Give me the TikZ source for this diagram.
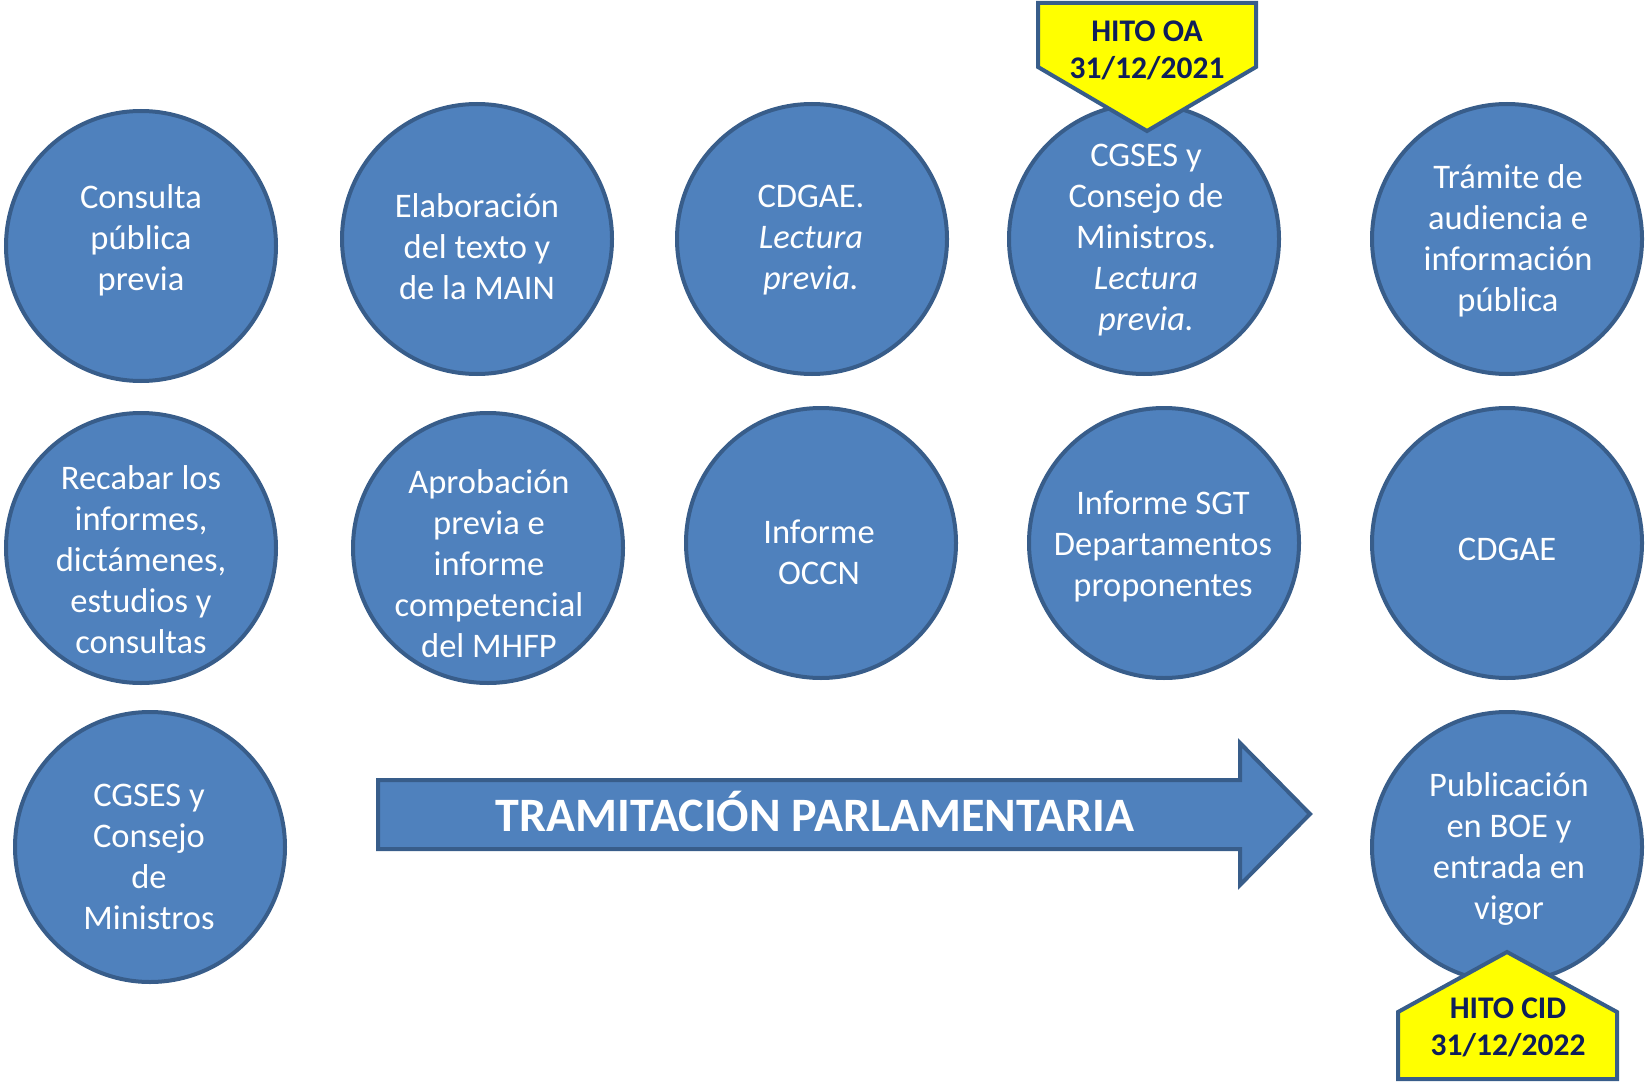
\documentclass[tikz,border=0pt]{standalone}
\usepackage{fontspec}
\setmainfont{Carlito}
\definecolor{fillb}{HTML}{4F81BD}
\definecolor{bord}{HTML}{385D8A}
\definecolor{hitoyel}{HTML}{FFFF00}
\definecolor{hitotxt}{HTML}{0E1E5A}
\tikzset{
  circ/.style={circle, draw=bord, fill=fillb, line width=4pt, minimum size=270pt, inner sep=0pt},
  lbl/.style={text=white, align=center, inner sep=0pt, font=\fontsize{34.5}{41}\selectfont},
  hitotext/.style={text=hitotxt, align=center, inner sep=0pt, font=\bfseries\fontsize{31.5}{37}\selectfont},
  shapeline/.style={draw=bord, line width=4pt, line join=miter},
  bigtxt/.style={text=white, inner sep=0pt, font=\bfseries\fontsize{48}{56}\selectfont}
}
\begin{document}
\begin{tikzpicture}[x=1pt,y=-1pt]
\useasboundingbox (0,0) rectangle (1646,1083);
% row 1
\node[circ] (c1) at (141,246) {};
\node[circ] (c2) at (477,239) {};
\node[circ] (c3) at (812,239) {};
\node[circ] (c4) at (1144,239) {};
\node[circ] (c5) at (1507,239) {};
% row 2
\node[circ] (c6) at (141,548) {};
\node[circ] (c7) at (488,548) {};
\node[circ] (c8) at (821,543) {};
\node[circ] (c9) at (1164,543) {};
\node[circ] (c10) at (1507,543) {};
% row 3
\node[circ] (c11) at (150,847) {};
\node[circ] (c12) at (1507,847) {};
% labels
\node[lbl] (t1) at (141,240) {Consulta\\pública\\previa};
\node[lbl] (t2) at (477,247) {Elaboración\\del texto y\\de la MAIN};
\node[lbl] (t3) at (811,240) {CDGAE.\\\textit{Lectura}\\\textit{previa.}};
\node[lbl] (t4) at (1146,240) {CGSES y\\Consejo de\\Ministros.\\\textit{Lectura}\\\textit{previa.}};
\node[lbl] (t5) at (1508,241) {Trámite de\\audiencia e\\información\\pública};
\node[lbl] (t6) at (141,560) {Recabar los\\informes,\\dictámenes,\\estudios y\\consultas};
\node[lbl] (t7) at (489,564) {Aprobación\\previa e\\informe\\competencial\\del MHFP};
\node[lbl] (t8) at (819,552) {Informe\\OCCN};
\node[lbl] (t9) at (1163,546) {Informe SGT\\Departamentos\\proponentes};
\node[lbl] (t10) at (1507,549) {CDGAE};
\node[lbl] (t11) at (149,857) {CGSES y\\Consejo\\de\\Ministros};
\node[lbl] (t12) at (1509,849) {Publicación\\en BOE y\\entrada en\\vigor};
% arrow
\draw[shapeline, fill=fillb] (378,780) -- (1240,780) -- (1240,743) -- (1310,814) -- (1240,885) -- (1240,849) -- (378,849) -- cycle;
\node[bigtxt] (arr) at (815,812) {TRAMITACIÓN PARLAMENTARIA};
% HITO OA
\draw[shapeline, fill=hitoyel] (1038,3) -- (1256,3) -- (1256,67) -- (1147,131) -- (1038,67) -- cycle;
\node[hitotext] (hoa) at (1147,50) {HITO OA\\31/12/2021};
% HITO CID
\draw[shapeline, fill=hitoyel] (1507,952) -- (1617,1012) -- (1617,1079) -- (1398,1079) -- (1398,1012) -- cycle;
\node[hitotext] (hcid) at (1508,1027) {HITO CID\\31/12/2022};
\end{tikzpicture}
\end{document}
